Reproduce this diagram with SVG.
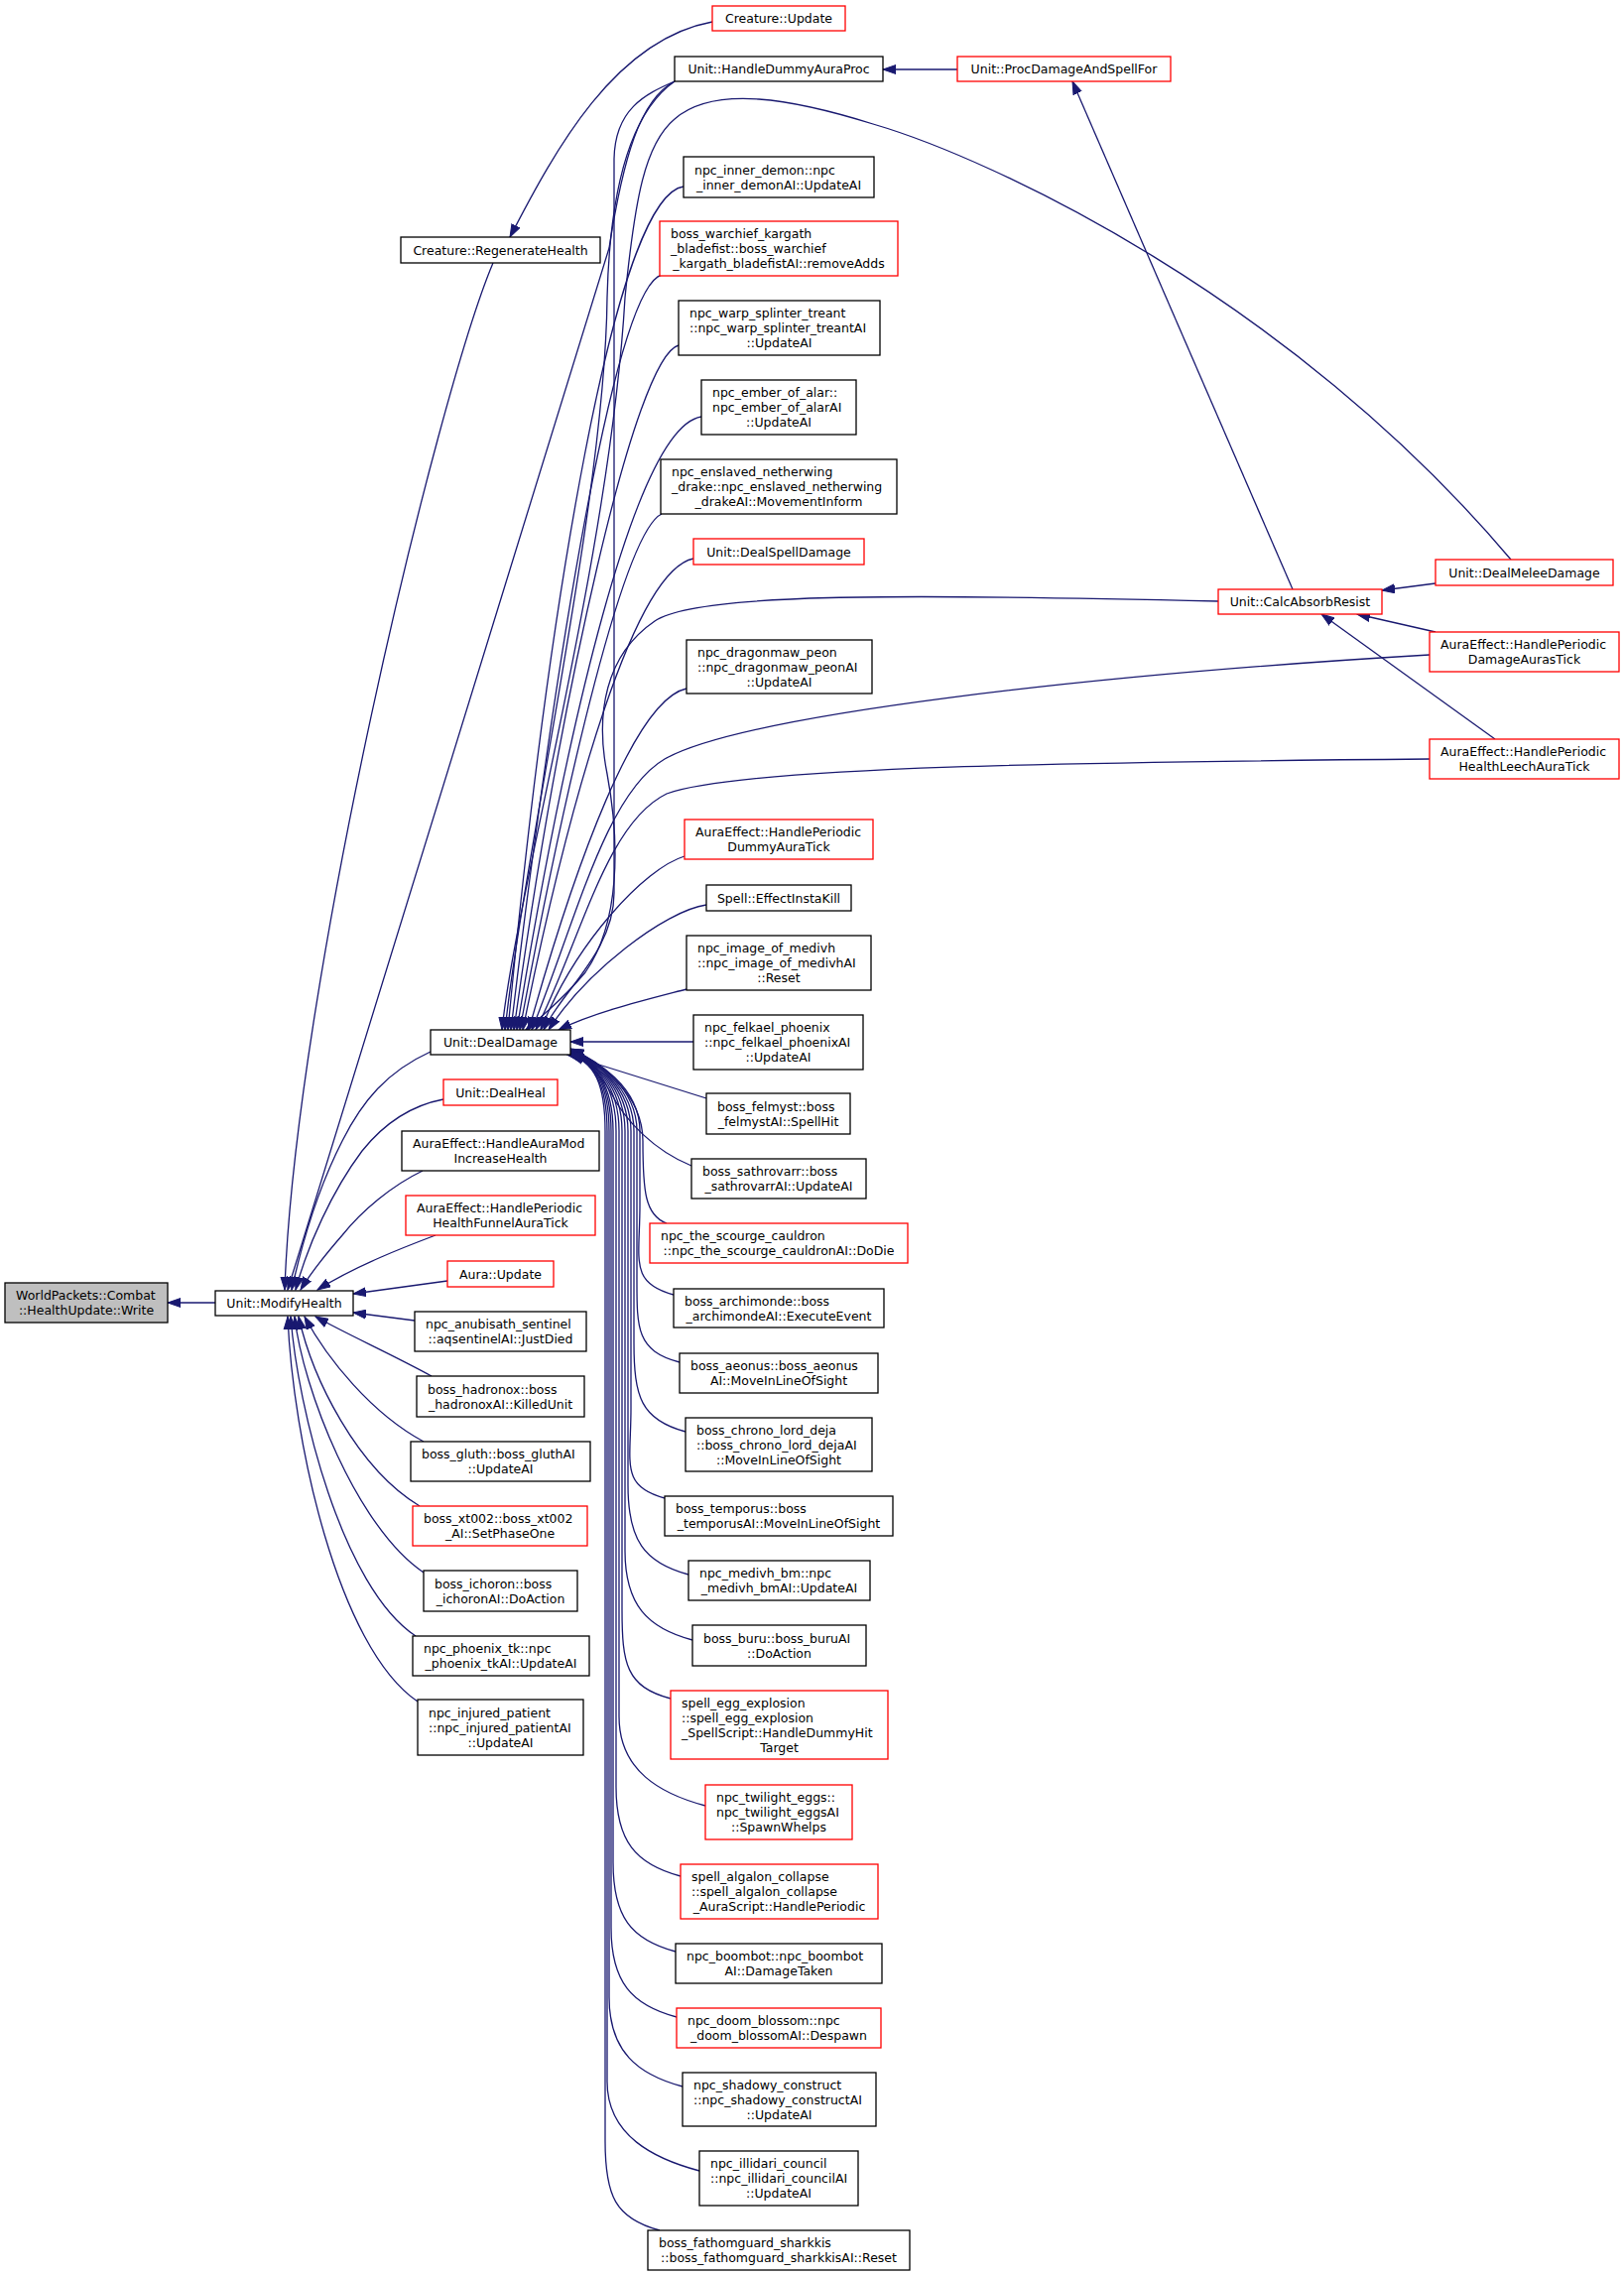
<svg xmlns="http://www.w3.org/2000/svg" width="1637" height="2294" viewBox="0 0 1637 2294">
<style>
.node rect{fill:#fff;stroke:#000;stroke-width:1.3}
.red rect{stroke:#ff0000}
.root rect{fill:#bfbfbf}
text{font-family:"DejaVu Sans","Liberation Sans",sans-serif;font-size:12.5px;fill:#000}
.m{text-anchor:middle}
.edges path{fill:none;stroke:#191970;stroke-width:1.3;marker-end:url(#a)}
</style>
<defs>
<marker id="a" markerUnits="userSpaceOnUse" markerWidth="14" markerHeight="10" viewBox="0 0 14 10" refX="13" refY="5" orient="auto"><path d="M0,0.5 L13,5 L0,9.5 z" fill="#191970" stroke="#191970" stroke-width="1"/></marker>
</defs>
<rect width="1637" height="2294" fill="#fff"/>
<g class="edges">
<path d="M217,1313 L169,1313"/>
<path d="M497,265 C440,400 297,1000 287,1300"/>
<path d="M680,82 C645,100 628,160 614,250 L290,1300"/>
<path d="M434,1060 C390,1080 365,1110 345,1150 C322,1195 305,1250 294,1300"/>
<path d="M447,1108 C410,1115 385,1135 365,1160 C335,1200 310,1255 298,1300"/>
<path d="M426,1180 C395,1195 365,1220 345,1245 C325,1268 312,1285 303,1300"/>
<path d="M439,1245 C410,1256 360,1275 320,1300"/>
<path d="M451,1291 L356,1304"/>
<path d="M418,1331 L356,1323"/>
<path d="M435,1387 C395,1365 350,1345 318,1327"/>
<path d="M427,1453 C375,1425 330,1370 307,1327"/>
<path d="M423,1518 C360,1480 315,1390 301,1327"/>
<path d="M427,1585 C360,1540 305,1400 297,1327"/>
<path d="M419,1649 C345,1600 300,1420 293,1327"/>
<path d="M421,1715 C340,1660 295,1450 290,1327"/>
<path d="M718,22 C620,40 560,150 514,239"/>
<path d="M965,70 L890,70"/>
<path d="M1303,594 L1081,82"/>
<path d="M1447,588 L1393,595"/>
<path d="M1447,637 L1368,619"/>
<path d="M1507,745 L1332,619"/>
<path d="M1523,564 C1300,300 1000,160 880,125 C800,100 720,85 680,120 C650,145 640,200 630,300 C615,560 520,900 506,1038"/>
<path d="M680,82 C640,110 615,180 612,300 C610,500 530,850 509,1038"/>
<path d="M680,82 C650,95 620,110 619,160 L619,900 C619,960 565,1000 548,1038"/>
<path d="M689,188 C620,198 552,612 512,1038"/>
<path d="M667,277 C620,290 560,660 515,1038"/>
<path d="M684,348 C640,360 565,700 518,1038"/>
<path d="M707,420 C640,430 570,740 521,1038"/>
<path d="M667,518 C630,535 572,780 524,1038"/>
<path d="M699,563 C640,575 575,800 527,1038"/>
<path d="M1228,606 C900,598 700,598 660,626 C610,660 600,720 612,780 C625,850 625,930 590,980 C565,1010 545,1025 530,1038"/>
<path d="M692,694 C640,705 580,870 533,1038"/>
<path d="M1441,660 C1100,680 750,720 670,765 C610,800 580,930 536,1038"/>
<path d="M1441,765 C1100,768 750,772 672,800 C610,830 585,950 540,1038"/>
<path d="M690,863 C650,875 580,950 545,1038"/>
<path d="M712,912 C670,918 590,980 553,1038"/>
<path d="M692,997 C650,1008 600,1020 563,1038"/>
<path d="M699,1050 L575,1050"/>
<path d="M712,1107 L575,1064"/>
<path d="M697,1175 C660,1160 630,1130 615,1100 C602,1078 590,1068 575,1061"/>
<path d="M672,1233 C650,1225 648,1200 648,1150 C648,1100 600,1068 575,1057"/>
<path d="M679,1305 C634,1293 645,1270 645,1215 L645,1140 C645,1095 600,1068 575,1057"/>
<path d="M685,1373 C640,1361 642,1338 642,1283 L642,1140 C642,1095 600,1068 575,1058"/>
<path d="M691,1443 C646,1431 639,1408 639,1353 L639,1140 C639,1095 600,1068 575,1058"/>
<path d="M670,1510 C625,1498 636,1475 636,1420 L636,1140 C636,1095 600,1068 575,1059"/>
<path d="M694,1587 C649,1575 633,1552 633,1497 L633,1140 C633,1095 600,1068 575,1059"/>
<path d="M698,1653 C653,1641 630,1618 630,1563 L630,1140 C630,1095 600,1068 575,1060"/>
<path d="M676,1712 C631,1700 627,1677 627,1622 L627,1140 C627,1095 600,1068 574,1060"/>
<path d="M711,1820 C666,1808 624,1785 624,1730 L624,1140 C624,1095 600,1068 574,1061"/>
<path d="M686,1891 C641,1879 621,1856 621,1801 L621,1140 C621,1095 600,1068 574,1061"/>
<path d="M681,1967 C636,1955 618,1932 618,1877 L618,1140 C618,1095 600,1068 573,1062"/>
<path d="M682,2033 C637,2021 616,1998 616,1943 L616,1140 C616,1095 600,1068 573,1062"/>
<path d="M688,2103 C643,2091 614,2068 614,2013 L614,1140 C614,1095 600,1068 573,1063"/>
<path d="M705,2188 C660,2176 612,2153 612,2098 L612,1140 C612,1095 600,1068 572,1063"/>
<path d="M665,2248 C620,2236 610,2213 610,2158 L610,1140 C610,1095 600,1068 572,1063"/>
</g>
<g id="n_world" class="node root"><rect x="5" y="1293" width="164" height="40"/><text x="16" y="1310">WorldPackets::Combat</text><text x="87" y="1325" class="m">::HealthUpdate::Write</text></g>
<g id="n_modify" class="node"><rect x="217" y="1301" width="139" height="25"/><text x="286.5" y="1318" class="m">Unit::ModifyHealth</text></g>
<g id="n_cupdate" class="node red"><rect x="718" y="6" width="134" height="25"/><text x="785" y="23" class="m">Creature::Update</text></g>
<g id="n_dummyproc" class="node"><rect x="680" y="57" width="210" height="25"/><text x="785" y="74" class="m">Unit::HandleDummyAuraProc</text></g>
<g id="n_proc" class="node red"><rect x="965" y="57" width="215" height="25"/><text x="1072.5" y="74" class="m">Unit::ProcDamageAndSpellFor</text></g>
<g id="n_regen" class="node"><rect x="404" y="239" width="201" height="26"/><text x="504.5" y="256.5" class="m">Creature::RegenerateHealth</text></g>
<g id="n_inner" class="node"><rect x="689" y="158" width="192" height="41"/><text x="700" y="175.5">npc_inner_demon::npc</text><text x="785" y="190.5" class="m">_inner_demonAI::UpdateAI</text></g>
<g id="n_warchief" class="node red"><rect x="665" y="223" width="240" height="55"/><text x="676" y="240">boss_warchief_kargath</text><text x="676" y="255">_bladefist::boss_warchief</text><text x="785" y="270" class="m">_kargath_bladefistAI::removeAdds</text></g>
<g id="n_warp" class="node"><rect x="684" y="303" width="203" height="55"/><text x="695" y="320">npc_warp_splinter_treant</text><text x="695" y="335">::npc_warp_splinter_treantAI</text><text x="785.5" y="350" class="m">::UpdateAI</text></g>
<g id="n_ember" class="node"><rect x="707" y="383" width="156" height="55"/><text x="718" y="400">npc_ember_of_alar::</text><text x="718" y="415">npc_ember_of_alarAI</text><text x="785" y="430" class="m">::UpdateAI</text></g>
<g id="n_enslaved" class="node"><rect x="666" y="463" width="238" height="55"/><text x="677" y="480">npc_enslaved_netherwing</text><text x="677" y="495">_drake::npc_enslaved_netherwing</text><text x="785" y="510" class="m">_drakeAI::MovementInform</text></g>
<g id="n_spelldmg" class="node red"><rect x="699" y="543" width="172" height="26"/><text x="785" y="560.5" class="m">Unit::DealSpellDamage</text></g>
<g id="n_dragonmaw" class="node"><rect x="692" y="645" width="187" height="54"/><text x="703" y="661.5">npc_dragonmaw_peon</text><text x="703" y="676.5">::npc_dragonmaw_peonAI</text><text x="785.5" y="691.5" class="m">::UpdateAI</text></g>
<g id="n_dummytick" class="node red"><rect x="690" y="826" width="190" height="40"/><text x="701" y="843">AuraEffect::HandlePeriodic</text><text x="785" y="858" class="m">DummyAuraTick</text></g>
<g id="n_instakill" class="node"><rect x="712" y="892" width="146" height="26"/><text x="785" y="909.5" class="m">Spell::EffectInstaKill</text></g>
<g id="n_medivh" class="node"><rect x="692" y="943" width="186" height="55"/><text x="703" y="960">npc_image_of_medivh</text><text x="703" y="975">::npc_image_of_medivhAI</text><text x="785" y="990" class="m">::Reset</text></g>
<g id="n_dealdamage" class="node"><rect x="434" y="1038" width="141" height="25"/><text x="504.5" y="1055" class="m">Unit::DealDamage</text></g>
<g id="n_felkael" class="node"><rect x="699" y="1023" width="171" height="55"/><text x="710" y="1040">npc_felkael_phoenix</text><text x="710" y="1055">::npc_felkael_phoenixAI</text><text x="784.5" y="1070" class="m">::UpdateAI</text></g>
<g id="n_felmyst" class="node"><rect x="712" y="1102" width="145" height="41"/><text x="723" y="1119.5">boss_felmyst::boss</text><text x="784.5" y="1134.5" class="m">_felmystAI::SpellHit</text></g>
<g id="n_sathro" class="node"><rect x="697" y="1168" width="176" height="40"/><text x="708" y="1185">boss_sathrovarr::boss</text><text x="785" y="1200" class="m">_sathrovarrAI::UpdateAI</text></g>
<g id="n_scourge" class="node red"><rect x="655" y="1233" width="260" height="40"/><text x="666" y="1250">npc_the_scourge_cauldron</text><text x="785" y="1265" class="m">::npc_the_scourge_cauldronAI::DoDie</text></g>
<g id="n_archi" class="node"><rect x="679" y="1299" width="212" height="39"/><text x="690" y="1315.5">boss_archimonde::boss</text><text x="785" y="1330.5" class="m">_archimondeAI::ExecuteEvent</text></g>
<g id="n_aeonus" class="node"><rect x="685" y="1364" width="200" height="40"/><text x="696" y="1381">boss_aeonus::boss_aeonus</text><text x="785" y="1396" class="m">AI::MoveInLineOfSight</text></g>
<g id="n_chrono" class="node"><rect x="691" y="1429" width="188" height="54"/><text x="702" y="1445.5">boss_chrono_lord_deja</text><text x="702" y="1460.5">::boss_chrono_lord_dejaAI</text><text x="785" y="1475.5" class="m">::MoveInLineOfSight</text></g>
<g id="n_temporus" class="node"><rect x="670" y="1508" width="230" height="40"/><text x="681" y="1525">boss_temporus::boss</text><text x="785" y="1540" class="m">_temporusAI::MoveInLineOfSight</text></g>
<g id="n_medivhbm" class="node"><rect x="694" y="1573" width="183" height="40"/><text x="705" y="1590">npc_medivh_bm::npc</text><text x="785.5" y="1605" class="m">_medivh_bmAI::UpdateAI</text></g>
<g id="n_buru" class="node"><rect x="698" y="1638" width="175" height="41"/><text x="709" y="1655.5">boss_buru::boss_buruAI</text><text x="785.5" y="1670.5" class="m">::DoAction</text></g>
<g id="n_egg" class="node red"><rect x="676" y="1704" width="219" height="69"/><text x="687" y="1720.5">spell_egg_explosion</text><text x="687" y="1735.5">::spell_egg_explosion</text><text x="687" y="1750.5">_SpellScript::HandleDummyHit</text><text x="785.5" y="1765.5" class="m">Target</text></g>
<g id="n_twilight" class="node red"><rect x="711" y="1799" width="148" height="55"/><text x="722" y="1816">npc_twilight_eggs::</text><text x="722" y="1831">npc_twilight_eggsAI</text><text x="785" y="1846" class="m">::SpawnWhelps</text></g>
<g id="n_algalon" class="node red"><rect x="686" y="1879" width="199" height="55"/><text x="697" y="1896">spell_algalon_collapse</text><text x="697" y="1911">::spell_algalon_collapse</text><text x="785.5" y="1926" class="m">_AuraScript::HandlePeriodic</text></g>
<g id="n_boombot" class="node"><rect x="681" y="1959" width="208" height="40"/><text x="692" y="1976">npc_boombot::npc_boombot</text><text x="785" y="1991" class="m">AI::DamageTaken</text></g>
<g id="n_doom" class="node red"><rect x="682" y="2024" width="206" height="40"/><text x="693" y="2041">npc_doom_blossom::npc</text><text x="785" y="2056" class="m">_doom_blossomAI::Despawn</text></g>
<g id="n_shadowy" class="node"><rect x="688" y="2089" width="195" height="54"/><text x="699" y="2105.5">npc_shadowy_construct</text><text x="699" y="2120.5">::npc_shadowy_constructAI</text><text x="785.5" y="2135.5" class="m">::UpdateAI</text></g>
<g id="n_illidari" class="node"><rect x="705" y="2168" width="160" height="55"/><text x="716" y="2185">npc_illidari_council</text><text x="716" y="2200">::npc_illidari_councilAI</text><text x="785" y="2215" class="m">::UpdateAI</text></g>
<g id="n_fathom" class="node"><rect x="653" y="2248" width="264" height="40"/><text x="664" y="2265">boss_fathomguard_sharkkis</text><text x="785" y="2280" class="m">::boss_fathomguard_sharkkisAI::Reset</text></g>
<g id="n_dealheal" class="node red"><rect x="447" y="1088" width="115" height="26"/><text x="504.5" y="1105.5" class="m">Unit::DealHeal</text></g>
<g id="n_auramod" class="node"><rect x="405" y="1140" width="199" height="40"/><text x="416" y="1157">AuraEffect::HandleAuraMod</text><text x="504.5" y="1172" class="m">IncreaseHealth</text></g>
<g id="n_funnel" class="node red"><rect x="409" y="1205" width="191" height="40"/><text x="420" y="1222">AuraEffect::HandlePeriodic</text><text x="504.5" y="1237" class="m">HealthFunnelAuraTick</text></g>
<g id="n_auraupdate" class="node red"><rect x="451" y="1271" width="107" height="26"/><text x="504.5" y="1288.5" class="m">Aura::Update</text></g>
<g id="n_anubisath" class="node"><rect x="418" y="1322" width="173" height="40"/><text x="429" y="1339">npc_anubisath_sentinel</text><text x="504.5" y="1354" class="m">::aqsentinelAI::JustDied</text></g>
<g id="n_hadronox" class="node"><rect x="420" y="1387" width="169" height="41"/><text x="431" y="1404.5">boss_hadronox::boss</text><text x="504.5" y="1419.5" class="m">_hadronoxAI::KilledUnit</text></g>
<g id="n_gluth" class="node"><rect x="414" y="1453" width="181" height="40"/><text x="425" y="1470">boss_gluth::boss_gluthAI</text><text x="504.5" y="1485" class="m">::UpdateAI</text></g>
<g id="n_xt002" class="node red"><rect x="416" y="1518" width="176" height="40"/><text x="427" y="1535">boss_xt002::boss_xt002</text><text x="504" y="1550" class="m">_AI::SetPhaseOne</text></g>
<g id="n_ichoron" class="node"><rect x="427" y="1583" width="155" height="41"/><text x="438" y="1600.5">boss_ichoron::boss</text><text x="504.5" y="1615.5" class="m">_ichoronAI::DoAction</text></g>
<g id="n_phoenixtk" class="node"><rect x="416" y="1649" width="178" height="40"/><text x="427" y="1666">npc_phoenix_tk::npc</text><text x="505" y="1681" class="m">_phoenix_tkAI::UpdateAI</text></g>
<g id="n_injured" class="node"><rect x="421" y="1713" width="167" height="56"/><text x="432" y="1730.5">npc_injured_patient</text><text x="432" y="1745.5">::npc_injured_patientAI</text><text x="504.5" y="1760.5" class="m">::UpdateAI</text></g>
<g id="n_calcabsorb" class="node red"><rect x="1228" y="594" width="165" height="25"/><text x="1310.5" y="611" class="m">Unit::CalcAbsorbResist</text></g>
<g id="n_melee" class="node red"><rect x="1447" y="564" width="179" height="26"/><text x="1536.5" y="581.5" class="m">Unit::DealMeleeDamage</text></g>
<g id="n_dmgtick" class="node red"><rect x="1441" y="637" width="191" height="40"/><text x="1452" y="654">AuraEffect::HandlePeriodic</text><text x="1536.5" y="669" class="m">DamageAurasTick</text></g>
<g id="n_leechtick" class="node red"><rect x="1441" y="745" width="191" height="40"/><text x="1452" y="762">AuraEffect::HandlePeriodic</text><text x="1536.5" y="777" class="m">HealthLeechAuraTick</text></g>
</svg>
